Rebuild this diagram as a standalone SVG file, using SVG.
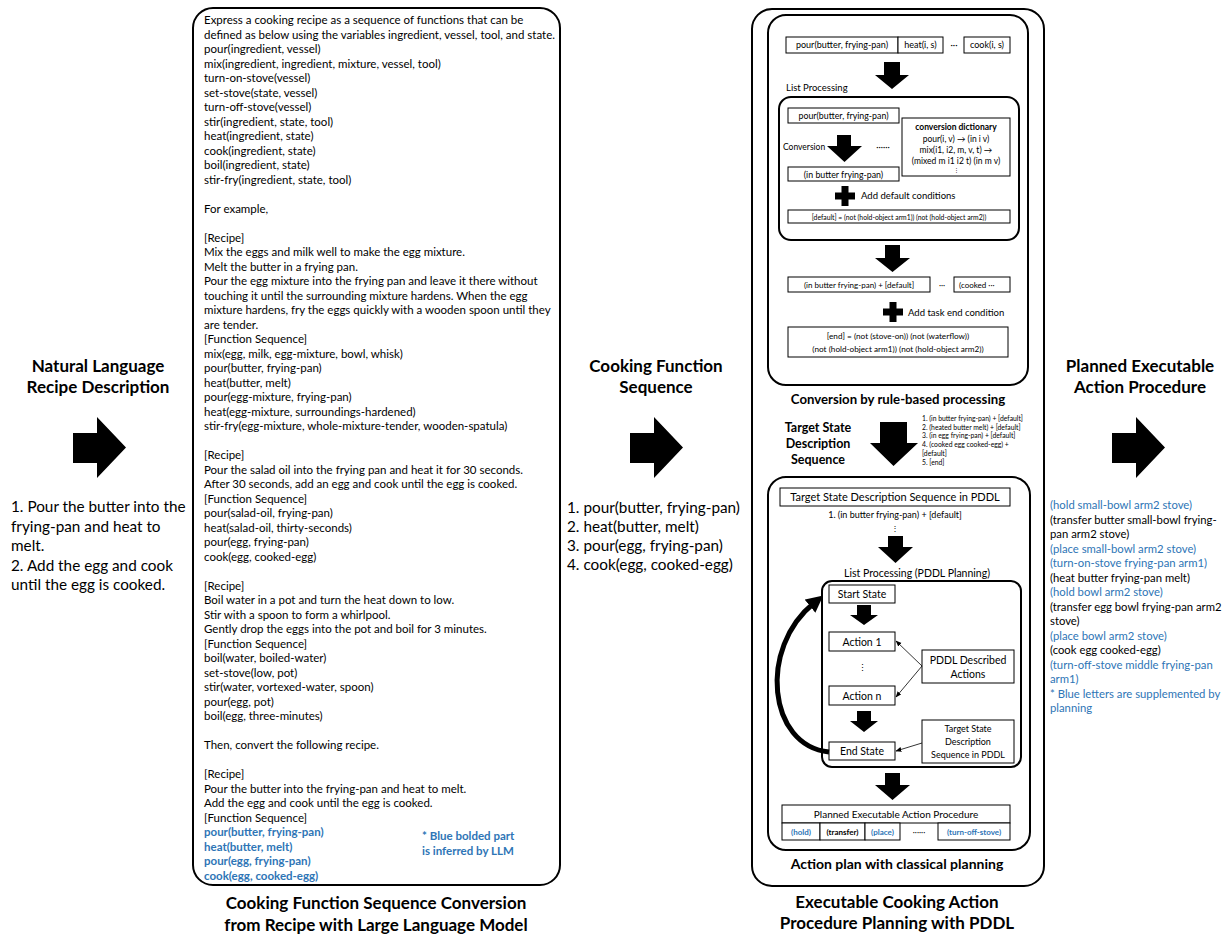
<svg xmlns="http://www.w3.org/2000/svg" width="1226" height="935" viewBox="0 0 1226 935">
<style>
text { font-family: Lato, "Liberation Sans", sans-serif; fill: #000; }
.p { font-size: 11.5px; }
.r { font-size: 11.3px; }
.b { font-weight: bold; }
.blue { fill: #2E75B6; }
.h { font-size: 17px; font-weight: bold; text-anchor: middle; }
.big { font-size: 15.3px; }
.c { text-anchor: middle; }
.box { fill: #fff; stroke: #000; stroke-width: 1; }
.panel { fill: #fff; stroke: #000; stroke-width: 2; }
.blk { fill: #000; stroke: none; }
.thin { fill: none; stroke: #000; stroke-width: 0.8; marker-end: url(#sm); }
.thick { fill: none; stroke: #000; stroke-width: 5; marker-end: url(#bh); }
</style>
<defs>
<path id="rarrow" d="M0,16 H24 V0 L53,30.5 L24,61 V46 H0 Z"/>
<path id="plus" d="M-3.5,-10 H3.5 V-3.5 H10 V3.5 H3.5 V10 H-3.5 V3.5 H-10 V-3.5 H-3.5 Z"/>
<marker id="sm" viewBox="0 0 10 10" refX="9" refY="5" markerWidth="6" markerHeight="6" markerUnits="userSpaceOnUse" orient="auto"><path d="M0,1 L10,5 L0,9 Z" fill="#000"/></marker>
<marker id="bh" viewBox="0 0 10 10" refX="3" refY="5" markerWidth="17" markerHeight="17" markerUnits="userSpaceOnUse" orient="auto"><path d="M0,0 L10,5 L0,10 Z" fill="#000"/></marker>
</defs>

<!-- Column: natural language -->
<g id="nl-recipe">
<text class="h" x="98" y="372">Natural Language</text>
<text class="h" x="98" y="393">Recipe Description</text>
<use href="#rarrow" x="73" y="417" class="blk"/>
<text class="big"><tspan x="11" y="512">1. Pour the butter into the</tspan><tspan x="11" y="532">frying-pan and heat to</tspan><tspan x="11" y="551">melt.</tspan><tspan x="11" y="571">2. Add the egg and cook</tspan><tspan x="11" y="590">until the egg is cooked.</tspan></text>
</g>

<!-- LLM prompt panel -->
<g id="llm-panel">
<rect class="panel" x="193" y="8" width="367" height="877" rx="20"/>
<text class="p">
<tspan x="204" y="24">Express a cooking recipe as a sequence of functions that can be</tspan>
<tspan x="204" y="38.5">defined as below using the variables ingredient, vessel, tool, and state.</tspan>
<tspan x="204" y="53">pour(ingredient, vessel)</tspan>
<tspan x="204" y="67.5">mix(ingredient, ingredient, mixture, vessel, tool)</tspan>
<tspan x="204" y="82">turn-on-stove(vessel)</tspan>
<tspan x="204" y="96.5">set-stove(state, vessel)</tspan>
<tspan x="204" y="111">turn-off-stove(vessel)</tspan>
<tspan x="204" y="125.5">stir(ingredient, state, tool)</tspan>
<tspan x="204" y="140">heat(ingredient, state)</tspan>
<tspan x="204" y="154.5">cook(ingredient, state)</tspan>
<tspan x="204" y="169">boil(ingredient, state)</tspan>
<tspan x="204" y="183.5">stir-fry(ingredient, state, tool)</tspan>
<tspan x="204" y="212.5">For example,</tspan>
<tspan x="204" y="241.5">[Recipe]</tspan>
<tspan x="204" y="256">Mix the eggs and milk well to make the egg mixture.</tspan>
<tspan x="204" y="270.5">Melt the butter in a frying pan.</tspan>
<tspan x="204" y="285">Pour the egg mixture into the frying pan and leave it there without</tspan>
<tspan x="204" y="299.5">touching it until the surrounding mixture hardens. When the egg</tspan>
<tspan x="204" y="314">mixture hardens, fry the eggs quickly with a wooden spoon until they</tspan>
<tspan x="204" y="328.5">are tender.</tspan>
<tspan x="204" y="343">[Function Sequence]</tspan>
<tspan x="204" y="357.5">mix(egg, milk, egg-mixture, bowl, whisk)</tspan>
<tspan x="204" y="372">pour(butter, frying-pan)</tspan>
<tspan x="204" y="386.5">heat(butter, melt)</tspan>
<tspan x="204" y="401">pour(egg-mixture, frying-pan)</tspan>
<tspan x="204" y="415.5">heat(egg-mixture, surroundings-hardened)</tspan>
<tspan x="204" y="430">stir-fry(egg-mixture, whole-mixture-tender, wooden-spatula)</tspan>
<tspan x="204" y="459">[Recipe]</tspan>
<tspan x="204" y="473.5">Pour the salad oil into the frying pan and heat it for 30 seconds.</tspan>
<tspan x="204" y="488">After 30 seconds, add an egg and cook until the egg is cooked.</tspan>
<tspan x="204" y="502.5">[Function Sequence]</tspan>
<tspan x="204" y="517">pour(salad-oil, frying-pan)</tspan>
<tspan x="204" y="531.5">heat(salad-oil, thirty-seconds)</tspan>
<tspan x="204" y="546">pour(egg, frying-pan)</tspan>
<tspan x="204" y="560.5">cook(egg, cooked-egg)</tspan>
<tspan x="204" y="589.5">[Recipe]</tspan>
<tspan x="204" y="604">Boil water in a pot and turn the heat down to low.</tspan>
<tspan x="204" y="618.5">Stir with a spoon to form a whirlpool.</tspan>
<tspan x="204" y="633">Gently drop the eggs into the pot and boil for 3 minutes.</tspan>
<tspan x="204" y="647.5">[Function Sequence]</tspan>
<tspan x="204" y="662">boil(water, boiled-water)</tspan>
<tspan x="204" y="676.5">set-stove(low, pot)</tspan>
<tspan x="204" y="691">stir(water, vortexed-water, spoon)</tspan>
<tspan x="204" y="705.5">pour(egg, pot)</tspan>
<tspan x="204" y="720">boil(egg, three-minutes)</tspan>
<tspan x="204" y="749">Then, convert the following recipe.</tspan>
<tspan x="204" y="778">[Recipe]</tspan>
<tspan x="204" y="792.5">Pour the butter into the frying-pan and heat to melt.</tspan>
<tspan x="204" y="807">Add the egg and cook until the egg is cooked.</tspan>
<tspan x="204" y="821.5">[Function Sequence]</tspan>
</text>
<text class="p b blue">
<tspan x="204" y="836">pour(butter, frying-pan)</tspan>
<tspan x="204" y="850.5">heat(butter, melt)</tspan>
<tspan x="204" y="865">pour(egg, frying-pan)</tspan>
<tspan x="204" y="879.5">cook(egg, cooked-egg)</tspan>
</text>
<text class="p b blue"><tspan x="422" y="840">* Blue bolded part</tspan><tspan x="422" y="855">is inferred by LLM</tspan></text>
<text class="h" x="376" y="909">Cooking Function Sequence Conversion</text>
<text class="h" x="376" y="931">from Recipe with Large Language Model</text>
</g>

<!-- Column: cooking function sequence -->
<g id="func-seq">
<text class="h" x="656" y="372">Cooking Function</text>
<text class="h" x="656" y="393">Sequence</text>
<use href="#rarrow" x="630" y="417" class="blk"/>
<text class="big"><tspan x="567" y="513">1. pour(butter, frying-pan)</tspan><tspan x="567" y="532">2. heat(butter, melt)</tspan><tspan x="567" y="551">3. pour(egg, frying-pan)</tspan><tspan x="567" y="570">4. cook(egg, cooked-egg)</tspan></text>
</g>

<!-- PDDL panel -->
<g id="pddl-panel">
<rect class="panel" x="752" y="9" width="292" height="877" rx="20"/>
<text class="h" x="897" y="908">Executable Cooking Action</text>
<text class="h" x="897" y="929">Procedure Planning with PDDL</text>
</g>

<g id="rule-based">
<rect class="panel" x="768" y="15" width="260" height="370" rx="18"/>
<rect class="box" x="786" y="37" width="112" height="16"/>
<text class="c" x="842" y="48" font-size="9">pour(butter, frying-pan)</text>
<rect class="box" x="898" y="37" width="45" height="16"/>
<text class="c" x="920.5" y="48" font-size="9">heat(i, s)</text>
<text class="c" x="954" y="48" font-size="9">···</text>
<rect class="box" x="964" y="37" width="46" height="16"/>
<text class="c" x="987" y="48" font-size="9">cook(i, s)</text>
<polygon class="blk" points="884,62 900,62 900,75 909,75 892,89 875,75 884,75"/>
<text x="786" y="91" font-size="9.5">List Processing</text>
<text class="c" x="898" y="404" font-size="13.2" font-weight="bold">Conversion by rule-based processing</text>
</g>

<g id="list-processing">
<rect class="panel" x="779" y="97" width="240" height="143" rx="12"/>
<rect class="box" x="788" y="108" width="111" height="15"/>
<text class="c" x="843.5" y="119" font-size="8.8">pour(butter, frying-pan)</text>
<rect class="box" x="902" y="118" width="108" height="58"/>
<text class="c b" x="956" y="130" font-size="8.5">conversion dictionary</text>
<text class="c" x="956" y="142" font-size="8.5">pour(i, v) → (in i v)</text>
<text class="c" x="956" y="153" font-size="8.5">mix(i1, i2, m, v, t) →</text>
<text class="c" x="956" y="164" font-size="8.5">(mixed m i1 i2 t) (in m v)</text>
<text class="c" x="956" y="172" font-size="5">⋮</text>
<text x="783" y="150" font-size="8.5">Conversion</text>
<polygon class="blk" points="837,135 851,135 851,146 862,146 844.5,162 827,146 837,146"/>
<text class="c" x="883" y="150" font-size="8.5">······</text>
<rect class="box" x="788" y="167" width="111" height="14"/>
<text class="c" x="843.5" y="177.5" font-size="8.8">(in butter frying-pan)</text>
<use href="#plus" x="845" y="196" class="blk"/>
<text x="861" y="199" font-size="9.5">Add default conditions</text>
<rect class="box" x="788" y="210" width="222" height="13"/>
<text class="c" x="899" y="219.5" font-size="6.8">[default] = (not (hold-object arm1)) (not (hold-object arm2))</text>
</g>

<g id="target-states">
<polygon class="blk" points="885,245 900,245 900,258 910,258 892.5,272 875,258 885,258"/>
<rect class="box" x="788" y="277" width="142" height="15"/>
<text class="c" x="859" y="287.5" font-size="8">(in butter frying-pan) + [default]</text>
<text class="c" x="942" y="287.5" font-size="8">···</text>
<rect class="box" x="954" y="277" width="56" height="15"/>
<text x="959" y="287.5" font-size="8">(cooked ···</text>
<use href="#plus" x="893" y="312" class="blk"/>
<text x="908" y="315.5" font-size="9.5">Add task end condition</text>
<rect class="box" x="788" y="327" width="220" height="30"/>
<text class="c" x="898" y="339" font-size="8.2">[end] = (not (stove-on)) (not (waterflow))</text>
<text class="c" x="898" y="352" font-size="8.2">(not (hold-object arm1)) (not (hold-object arm2))</text>
</g>

<g id="target-seq-label">
<text class="c b" x="818" y="432" font-size="12.5">Target State</text>
<text class="c b" x="818" y="448" font-size="12.5">Description</text>
<text class="c b" x="818" y="464" font-size="12.5">Sequence</text>
<polygon class="blk" points="880,422 907,422 907,443 918,443 893.5,466 870,443 880,443"/>
<text font-size="6.8"><tspan x="922" y="421">1. (in butter frying-pan) + [default]</tspan><tspan x="922" y="429.7">2. (heated butter melt) + [default]</tspan><tspan x="922" y="438.4">3. (in egg frying-pan) + [default]</tspan><tspan x="922" y="447.1">4. (cooked egg cooked-egg) +</tspan><tspan x="922" y="455.8">[default]</tspan><tspan x="922" y="464.5">5. [end]</tspan></text>
</g>

<g id="classical-planning">
<rect class="panel" x="768" y="477" width="262" height="373" rx="18"/>
<rect class="box" x="780" y="488" width="230" height="18"/>
<text class="c" x="895" y="501" font-size="11">Target State Description Sequence in PDDL</text>
<text class="c" x="895" y="518" font-size="9">1. (in butter frying-pan) + [default]</text>
<text class="c" x="895" y="531" font-size="8">⋮</text>
<polygon class="blk" points="888,536 903,536 903,547 913,547 895.5,563 878,547 888,547"/>
<text class="c" x="917" y="577" font-size="10.5">List Processing (PDDL Planning)</text>
<text class="c" x="897" y="869" font-size="14" font-weight="bold">Action plan with classical planning</text>
</g>

<g id="pddl-planning">
<rect class="panel" x="822" y="581" width="199" height="186" rx="10"/>
</g>
<g id="start-state"><rect class="box" x="829" y="585" width="66" height="18"/><text class="c" x="862" y="598" font-size="10.5">Start State</text></g>
<g id="action-1"><rect class="box" x="829" y="632" width="66" height="19"/><text class="c" x="862" y="645.5" font-size="10.5">Action 1</text></g>
<text class="c" x="862" y="671" font-size="9">⋮</text>
<g id="action-n"><rect class="box" x="829" y="686" width="66" height="19"/><text class="c" x="862" y="699.5" font-size="10.5">Action n</text></g>
<g id="end-state"><rect class="box" x="829" y="742" width="66" height="18"/><text class="c" x="862" y="755" font-size="10.5">End State</text></g>
<g id="pddl-actions"><rect class="box" x="922" y="650" width="92" height="33"/><text class="c" x="968" y="664" font-size="10.5">PDDL Described</text><text class="c" x="968" y="678" font-size="10.5">Actions</text></g>
<g id="target-pddl"><rect class="box" x="922" y="720" width="92" height="43"/><text class="c" x="968" y="732" font-size="9">Target State</text><text class="c" x="968" y="745" font-size="9">Description</text><text class="c" x="968" y="758" font-size="9">Sequence in PDDL</text></g>

<g id="action-procedure">
<rect class="box" x="782" y="805" width="228" height="18"/>
<text class="c" x="896" y="818" font-size="10">Planned Executable Action Procedure</text>
<rect class="box" x="782" y="823" width="38" height="17"/>
<rect class="box" x="820" y="823" width="45" height="17"/>
<rect class="box" x="865" y="823" width="35" height="17"/>
<rect class="box" x="938" y="823" width="72" height="17"/>
<text class="c b blue" x="801" y="835" font-size="8">(hold)</text>
<text class="c b" x="842.5" y="835" font-size="8">(transfer)</text>
<text class="c b blue" x="882.5" y="835" font-size="8">(place)</text>
<text class="c" x="919" y="835" font-size="8">······</text>
<text class="c b blue" x="974" y="835" font-size="8">(turn-off-stove)</text>
</g>

<g id="connectors">
<polygon class="blk" points="857,605 871,605 871,615 878,615 864,625 850,615 857,615"/>
<polygon class="blk" points="857,711 871,711 871,721 878,721 864,732 850,721 857,721"/>
<polygon class="blk" points="885,773 900,773 900,785 910,785 892.5,800 875,785 885,785"/>
<line class="thin" x1="922" y1="666" x2="896" y2="641"/>
<line class="thin" x1="922" y1="666" x2="896" y2="697"/>
<line class="thin" x1="922" y1="743" x2="896" y2="751"/>
<path class="thick" d="M829,752 C768,746 758,648 814,603"/>
</g>

<!-- Column: planned executable action procedure -->
<g id="plan-output">
<text class="h" x="1140" y="372">Planned Executable</text>
<text class="h" x="1140" y="393">Action Procedure</text>
<use href="#rarrow" x="1112" y="417" class="blk"/>
<text class="r">
<tspan x="1050" y="509" class="blue">(hold small-bowl arm2 stove)</tspan>
<tspan x="1050" y="523.5">(transfer butter small-bowl frying-</tspan>
<tspan x="1050" y="538">pan arm2 stove)</tspan>
<tspan x="1050" y="552.5" class="blue">(place small-bowl arm2 stove)</tspan>
<tspan x="1050" y="567" class="blue">(turn-on-stove frying-pan arm1)</tspan>
<tspan x="1050" y="581.5">(heat butter frying-pan melt)</tspan>
<tspan x="1050" y="596" class="blue">(hold bowl arm2 stove)</tspan>
<tspan x="1050" y="610.5">(transfer egg bowl frying-pan arm2</tspan>
<tspan x="1050" y="625">stove)</tspan>
<tspan x="1050" y="639.5" class="blue">(place bowl arm2 stove)</tspan>
<tspan x="1050" y="654">(cook egg cooked-egg)</tspan>
<tspan x="1050" y="668.5" class="blue">(turn-off-stove middle frying-pan</tspan>
<tspan x="1050" y="683" class="blue">arm1)</tspan>
<tspan x="1050" y="697.5" class="blue">* Blue letters are supplemented by</tspan>
<tspan x="1050" y="712" class="blue">planning</tspan>
</text>
</g>
</svg>
